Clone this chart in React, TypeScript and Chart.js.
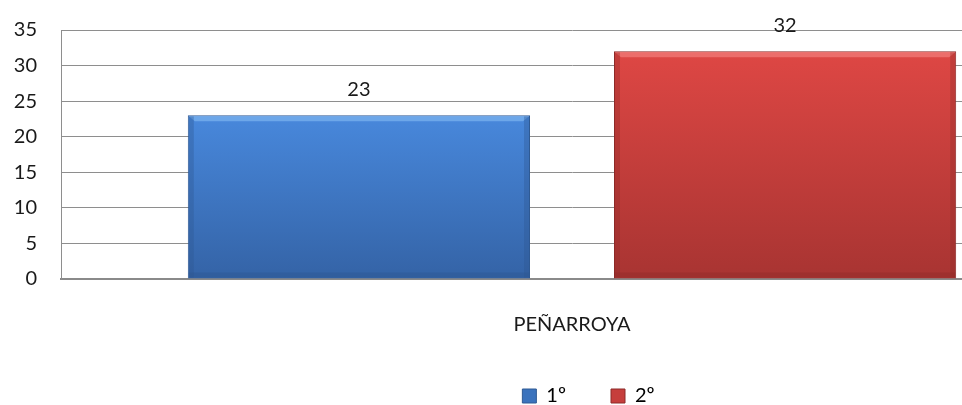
import React, { useEffect, useRef } from "react";
import { Chart, registerables } from "chart.js";

Chart.register(...registerables);

const categories = ["PEÑARROYA"];
const seriesNames = ["1º", "2º"];
const values1 = [23];
const values2 = [32];
const yTicks = [0, 5, 10, 15, 20, 25, 30, 35];

const FONT = "Lato, 'Open Sans', sans-serif";

const palette = [
  { top: "#4888dc", bottom: "#3463a6", border: "#2f5a94", light: "#79b1ee", dark: "#2d568f", legend: "#3b73bd" },
  { top: "#de4744", bottom: "#a83432", border: "#8c2a28", light: "#f07b78", dark: "#8f2b29", legend: "#c63e3c" },
];

function makeGradient(ctx: any, i: number) {
  const chart = ctx.chart;
  const area = chart.chartArea;
  const p = palette[i];
  if (!area) return p.top;
  const yScale = chart.scales.y;
  const v = ctx.raw ?? 0;
  const top = yScale.getPixelForValue(v);
  const bottom = yScale.getPixelForValue(0);
  const g = chart.ctx.createLinearGradient(0, top, 0, bottom);
  g.addColorStop(0, p.top);
  g.addColorStop(1, p.bottom);
  return g;
}

const bevelPlugin = {
  id: "bevel",
  afterDatasetsDraw(chart: any) {
    const c = chart.ctx;
    chart.data.datasets.forEach((ds: any, i: number) => {
      const meta = chart.getDatasetMeta(i);
      const p = palette[i];
      meta.data.forEach((el: any) => {
        const { x, y, base, width } = el.getProps(["x", "y", "base", "width"], true);
        const l = x - width / 2;
        const r = x + width / 2;
        c.save();
        c.fillStyle = p.light;
        c.globalAlpha = 0.75;
        c.beginPath();
        c.moveTo(l + 1, y + 1);
        c.lineTo(r - 1, y + 1);
        c.lineTo(r - 7, y + 6);
        c.lineTo(l + 7, y + 6);
        c.closePath();
        c.fill();
        c.globalAlpha = 0.35;
        c.fillStyle = p.dark;
        c.fillRect(l + 1, y + 1, 5, base - y - 2);
        c.fillRect(r - 6, y + 1, 5, base - y - 2);
        c.globalAlpha = 0.4;
        c.fillRect(l + 1, base - 6, width - 2, 5);
        c.restore();
      });
    });
  },
};

const valueLabelPlugin = {
  id: "valueLabels",
  afterDatasetsDraw(chart: any) {
    const c = chart.ctx;
    c.save();
    c.font = `20px ${FONT}`;
    c.fillStyle = "#1a1a1a";
    c.textAlign = "center";
    c.textBaseline = "middle";
    chart.data.datasets.forEach((ds: any, i: number) => {
      const meta = chart.getDatasetMeta(i);
      meta.data.forEach((el: any, j: number) => {
        c.fillText(String(ds.data[j]), el.x, el.y - 26);
      });
    });
    c.restore();
  },
};

const legendShiftPlugin = {
  id: "legendShift",
  afterLayout(chart: any) {
    const lg = chart.legend;
    if (!lg) return;
    lg.left += 47;
    lg.right += 47;
  },
};

export default function App() {
  const ref = useRef<HTMLCanvasElement | null>(null);
  useEffect(() => {
    if (!ref.current) return;
    const chart = new Chart(ref.current, {
      type: "bar",
      data: {
        labels: categories,
        datasets: [
          {
            label: seriesNames[0],
            data: values1,
            backgroundColor: (ctx: any) => makeGradient(ctx, 0),
            borderColor: palette[0].border,
            borderWidth: 1,
          },
          {
            label: seriesNames[1],
            data: values2,
            backgroundColor: (ctx: any) => makeGradient(ctx, 1),
            borderColor: palette[1].border,
            borderWidth: 1,
          },
        ],
      },
      options: {
        responsive: false,
        animation: false,
        layout: { padding: { left: 0, right: 61, top: 30, bottom: -11 } },
        datasets: {
          bar: { categoryPercentage: 0.834, barPercentage: 0.803 },
        },
        scales: {
          x: {
            grid: { display: false, drawTicks: false },
            border: { color: "#8a8a8a", width: 2 },
            ticks: { font: { family: FONT, size: 20 }, color: "#1a1a1a", padding: 34 },
            afterFit: (scale: any) => {
              scale.height = scale.height - 30;
            },
          },
          y: {
            min: 0,
            max: 35,
            afterBuildTicks: (scale: any) => {
              scale.ticks = yTicks.map((v) => ({ value: v }));
            },
            afterFit: (scale: any) => {
              scale.width = 61;
              scale.paddingTop = 0;
            },
            grid: { color: "#8e8e8e", lineWidth: 1, drawTicks: false },
            border: { color: "#8e8e8e", width: 1 },
            ticks: { font: { family: FONT, size: 20 }, color: "#1a1a1a", padding: 24 },
          },
        },
        plugins: {
          legend: {
            position: "bottom",
            labels: {
              font: { family: FONT, size: 20 },
              color: "#1a1a1a",
              boxWidth: 14,
              boxHeight: 14,
              padding: 45,
              generateLabels: (chart: any) =>
                chart.data.datasets.map((ds: any, i: number) => ({
                  text: ds.label,
                  fillStyle: palette[i].legend,
                  strokeStyle: palette[i].border,
                  lineWidth: 1,
                  datasetIndex: i,
                  hidden: false,
                })),
            },
          },
          tooltip: { enabled: false },
        },
      },
      plugins: [bevelPlugin, valueLabelPlugin, legendShiftPlugin],
    });
    return () => chart.destroy();
  }, []);
  return (
    <div style={{ position: "fixed", left: 0, top: 0, width: 962, height: 405, overflow: "hidden", background: "#fff" }}>
      <canvas ref={ref} width={1144} height={405} style={{ display: "block" }} />
    </div>
  );
}
